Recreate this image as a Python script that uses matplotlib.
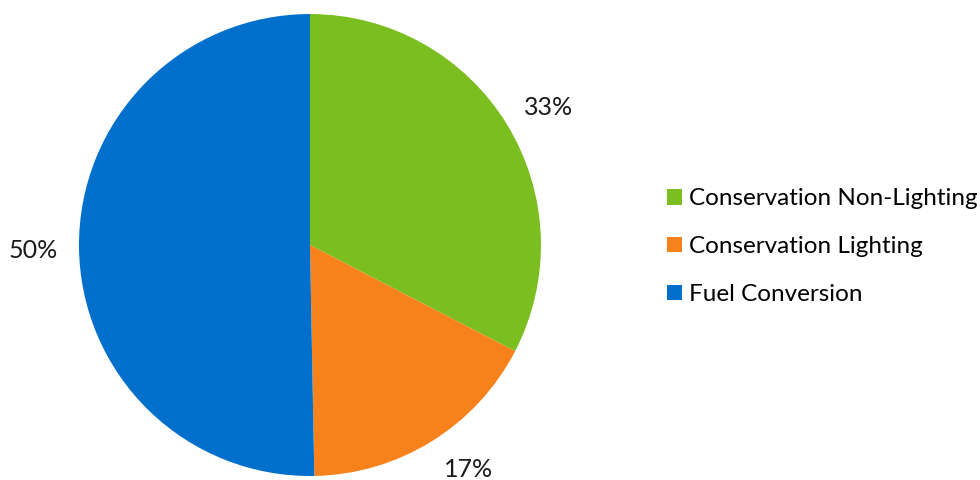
import numpy as np
import matplotlib.pyplot as plt
from matplotlib.patches import Patch

plt.rcParams['font.family'] = ['Lato', 'DejaVu Sans']

categories = ['Conservation Non-Lighting', 'Conservation Lighting', 'Fuel Conversion']
shares = [32.6, 17.1, 50.3]
colors = ['#7ABF1F', '#F7821B', '#0070CC']

# small nudges so the percent labels sit clear of the figure edge
label_dist = [1.19, 1.19, 1.20]
label_turn = [-1.4, 3.4, 0.5]

fig = plt.figure(figsize=(9.8, 4.8), dpi=100)
ax = fig.add_axes([0.0806, 0.0083, 0.4714, 0.9625])

wedges, _ = ax.pie(shares, colors=colors, startangle=90, counterclock=False,
                   wedgeprops={'linewidth': 0})
for w, s, d, t in zip(wedges, shares, label_dist, label_turn):
    mid = np.deg2rad((w.theta1 + w.theta2) / 2 + t)
    ax.text(d * np.cos(mid), d * np.sin(mid), '%.0f%%' % s, ha='center', va='center',
            fontsize=18, color='#1a1a1a')
ax.set_xlim(-1, 1)
ax.set_ylim(-1, 1)

handles = [Patch(facecolor=c, edgecolor='none') for c in colors]
fig.legend(handles, categories, loc='center left', bbox_to_anchor=(0.681, 0.486),
           frameon=False, fontsize=17.5, handlelength=0.6, handleheight=0.6,
           handletextpad=0.3, labelspacing=1.1, borderpad=0, borderaxespad=0)

fig.savefig('out.png', dpi=100)
